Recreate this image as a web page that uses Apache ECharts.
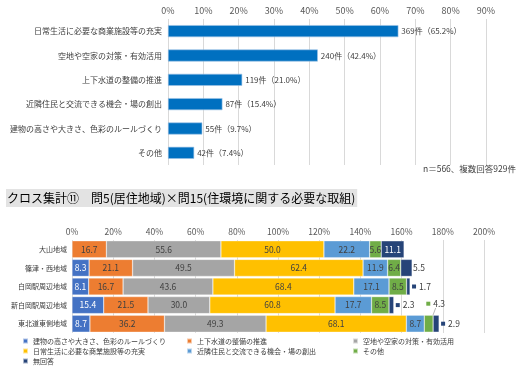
<!DOCTYPE html>
<html><head><meta charset="utf-8">
<script src="https://cdn.jsdelivr.net/npm/echarts@6/dist/echarts.min.js"></script>
<style>html,body{margin:0;padding:0;background:#fff}#c{width:516px;height:366px}</style>
</head><body><div id="c"></div>
<script>
const topCats = ['日常生活に必要な商業施設等の充実','空地や空家の対策・有効活用','上下水道の整備の推進','近隣住民と交流できる機会・場の創出','建物の高さや大きさ、色彩のルールづくり','その他'];
const topCounts = [369,240,119,87,55,42];
const topPct = [65.2,42.4,21.0,15.4,9.7,7.4];
const topTicks = [0,10,20,30,40,50,60,70,80,90];

const areas = ['大山地域','篠津・西地域','白岡駅周辺地域','新白岡駅周辺地域','東北道東側地域'];
const crossNames = ['建物の高さや大きさ、色彩のルールづくり','上下水道の整備の推進','空地や空家の対策・有効活用','日常生活に必要な商業施設等の充実','近隣住民と交流できる機会・場の創出','その他','無回答'];
const sBuild = [0, 8.3, 8.1, 15.4, 8.7];
const sWater = [16.7, 21.1, 16.7, 21.5, 36.2];
const sVacant = [55.6, 49.5, 43.6, 30.0, 49.3];
const sShop = [50.0, 62.4, 68.4, 60.8, 68.1];
const sComm = [22.2, 11.9, 17.1, 17.7, 8.7];
const sOther = [5.6, 6.4, 8.5, 8.5, 4.3];
const sNone = [11.1, 5.5, 1.7, 2.3, 2.9];
const crossTicks = [0,20,40,60,80,100,120,140,160,180,200];

const FONT = '"Noto Sans CJK JP", sans-serif';
const colors = ['#4472c4','#ed7d31','#a5a5a5','#ffc000','#5b9bd5','#70ad47','#264478'];
const labelColors = ['#ffffff','#404040','#404040','#404040','#404040','#404040','#ffffff'];
const crossData = [sBuild, sWater, sVacant, sShop, sComm, sOther, sNone];

const chart = echarts.init(document.getElementById('c'), null, {renderer:'canvas'});

function markerRich(color){
  return {
    m:{width:4,height:4,backgroundColor:color},
    v:{fontSize:8.5,color:'#404040',fontFamily:FONT,padding:[0,0,0,3]}
  };
}

const crossSeries = crossData.map((arr, si) => {
  const data = arr.map((v, di) => {
    const item = {value: v};
    if (si === 6 && di >= 1) {
      if (di === 1) {
        item.label = {position:'right', distance:1, color:'#404040', formatter: p => p.value.toFixed(1)};
      } else {
        item.label = {position:'right', distance:2, formatter: p => '{m| }{v|' + p.value.toFixed(1) + '}', rich: markerRich(colors[6])};
      }
    }
    if (si === 5 && di === 4) {
      item.label = {position:'inside', formatter: p => '{m| }{v|' + p.value.toFixed(1) + '}', rich: markerRich(colors[5])};
    }
    return item;
  });
  return {
    type:'bar', name: crossNames[si], stack:'cross', xAxisIndex:1, yAxisIndex:1,
    barWidth: 17,
    itemStyle:{color: colors[si], borderColor:'rgba(255,255,255,0.6)', borderWidth:0.5},
    label:{show:true, position:'inside', fontSize:8.5, fontFamily:FONT, color: labelColors[si],
      formatter: p => (p.value > 0 ? p.value.toFixed(1) : '')},
    labelLine: si === 5 ? {show:true, lineStyle:{color:'#a6a6a6', width:0.8}} : undefined,
    labelLayout: si === 5 ? (params => params.dataIndex === 4 ? {dx: 7, dy: -20} : {}) : undefined,
    data
  };
});

const legendCommon = {orient:'vertical', icon:'rect', itemWidth:5, itemHeight:5, itemGap:0, padding:0, height:40,
  textStyle:{fontSize:7, lineHeight:10, color:'#404040', fontFamily:FONT}, selectedMode:false};

const option = {
  animation:false,
  textStyle:{fontFamily:FONT},
  title:[
    {text:'n＝566、複数回答929件', left:423, top:165, padding:0,
      textStyle:{fontSize:8.5, fontWeight:'normal', color:'#404040', fontFamily:FONT}},
    {text:'クロス集計⑪　問5(居住地域)×問15(住環境に関する必要な取組)', left:6, top:189, padding:[3,2,3,1],
      backgroundColor:'#e3e3e3',
      textStyle:{fontSize:12, fontWeight:'normal', color:'#000', fontFamily:FONT}}
  ],
  legend:[
    Object.assign({left:22, top:336, data:[crossNames[0], crossNames[3], crossNames[6]]}, legendCommon),
    Object.assign({left:186, top:336, data:[crossNames[1], crossNames[4]]}, legendCommon),
    Object.assign({left:352, top:336, data:[crossNames[2], crossNames[5]]}, legendCommon)
  ],
  grid:[
    {left:168, top:19, width:318, height:146},
    {left:72, top:240, width:412, height:93}
  ],
  xAxis:[
    {gridIndex:0, type:'value', position:'top', min:topTicks[0], max:topTicks[topTicks.length-1], interval:10,
      axisLine:{show:false}, axisTick:{show:false},
      splitLine:{lineStyle:{color:'#d9d9d9', width:1}},
      axisLabel:{fontSize:9, color:'#595959', margin:4, formatter: v => v + '%'}},
    {gridIndex:1, type:'value', position:'top', min:crossTicks[0], max:crossTicks[crossTicks.length-1], interval:20,
      axisLine:{show:false}, axisTick:{show:false},
      splitLine:{lineStyle:{color:'#d9d9d9', width:1}},
      axisLabel:{fontSize:8.5, color:'#595959', margin:4, formatter: v => v + '%'}}
  ],
  yAxis:[
    {gridIndex:0, type:'category', inverse:true, data:topCats,
      axisLine:{show:false}, axisTick:{show:false},
      axisLabel:{fontSize:8, color:'#404040', margin:6}},
    {gridIndex:1, type:'category', inverse:true, data:areas,
      axisLine:{show:false}, axisTick:{show:false},
      axisLabel:{fontSize:7, color:'#404040', margin:5}}
  ],
  series:[
    {type:'bar', name:'top', xAxisIndex:0, yAxisIndex:0, barWidth:12,
      itemStyle:{color:'#0070c0', borderColor:'#9dc3e6', borderWidth:0.6},
      label:{show:true, position:'right', distance:3, fontSize:8, color:'#404040', fontFamily:FONT,
        formatter: p => topCounts[p.dataIndex] + '件（' + topPct[p.dataIndex].toFixed(1) + '%）'},
      data: topPct}
  ].concat(crossSeries)
};
chart.setOption(option);
</script></body></html>
